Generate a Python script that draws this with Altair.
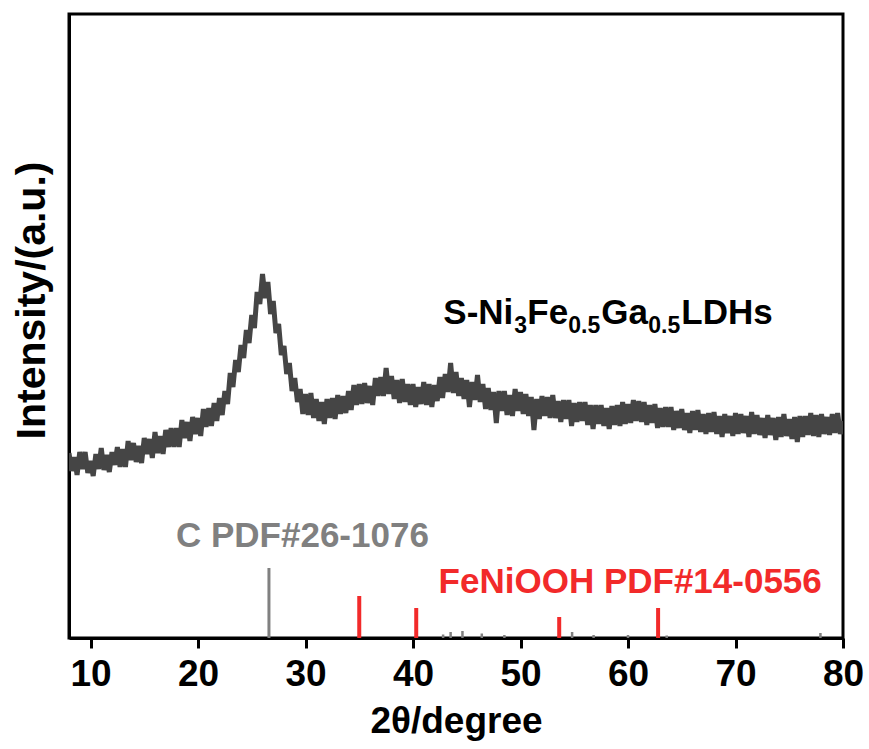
import altair as alt
import pandas as pd

# ---------------- data ----------------
two_theta_start = 8.0
two_theta_step = 0.25
# intensity (a.u.), one row per degree (8 ... 79) + final point at 80
intensity = [
    185, 167, 181, 163,   # 8
    186, 169, 186, 165,   # 9
    177, 162, 184, 169,   # 10
    190, 168, 183, 166,   # 11
    186, 173, 191, 171,   # 12
    189, 171, 197, 178,   # 13
    195, 176, 192, 175,   # 14
    200, 184, 199, 180,   # 15
    206, 185, 202, 184,   # 16
    208, 191, 210, 191,   # 17
    210, 191, 218, 200,   # 18
    216, 197, 221, 204,   # 19
    220, 202, 229, 211,   # 20
    230, 212, 235, 217,   # 21
    240, 223, 247, 234,   # 22
    265, 251, 278, 266,   # 23
    293, 280, 308, 295,   # 24
    323, 310, 346, 334,   # 25
    364, 340, 356, 324,   # 26
    337, 305, 314, 283,   # 27
    292, 264, 275, 247,   # 28
    260, 236, 249, 224,   # 29
    244, 223, 245, 220,   # 30
    239, 217, 236, 214,   # 31
    239, 220, 240, 219,   # 32
    243, 224, 242, 225,   # 33
    247, 228, 253, 233,   # 34
    254, 234, 255, 235,   # 35
    252, 233, 260, 242,   # 36
    261, 242, 270, 244,   # 37
    262, 239, 258, 235,   # 38
    259, 236, 254, 233,   # 39
    254, 231, 251, 234,   # 40
    256, 233, 254, 231,   # 41
    253, 237, 261, 240,   # 42
    264, 246, 275, 245,   # 43
    266, 242, 260, 239,   # 44
    258, 231, 256, 238,   # 45
    263, 236, 254, 229,   # 46
    250, 228, 246, 215,   # 47
    247, 227, 247, 223,   # 48
    243, 222, 249, 227,   # 49
    246, 224, 244, 222,   # 50
    241, 208, 239, 219,   # 51
    242, 222, 241, 220,   # 52
    243, 220, 237, 216,   # 53
    238, 219, 238, 212,   # 54
    235, 216, 236, 217,   # 55
    236, 213, 233, 209,   # 56
    233, 214, 233, 212,   # 57
    230, 209, 232, 213,   # 58
    233, 212, 236, 214,   # 59
    234, 215, 238, 217,   # 60
    237, 216, 236, 213,   # 61
    233, 215, 234, 210,   # 62
    230, 211, 231, 211,   # 63
    231, 208, 227, 210,   # 64
    229, 208, 225, 205,   # 65
    227, 208, 228, 206,   # 66
    224, 204, 225, 206,   # 67
    226, 204, 222, 201,   # 68
    224, 205, 222, 202,   # 69
    225, 204, 224, 205,   # 70
    222, 201, 226, 204,   # 71
    223, 203, 220, 200,   # 72
    223, 203, 220, 198,   # 73
    221, 201, 224, 202,   # 74
    219, 199, 221, 196,   # 75
    222, 201, 222, 203,   # 76
    225, 202, 223, 201,   # 77
    224, 204, 221, 203,   # 78
    224, 205, 225, 204,   # 79
    217,                  # 80
]
two_theta = [two_theta_start + i * two_theta_step for i in range(len(intensity))]

# standard card C PDF#26-1076
c_main_pos = [26.6]
c_main_int = [70]
c_minor_pos = [42.8, 43.5, 44.6, 46.4, 48.5, 54.8, 56.8, 60.0, 63.6, 77.9]
c_minor_int = [3.5, 6, 7, 4.5, 3, 6, 3, 3, 2.5, 5]

# standard card FeNiOOH PDF#14-0556
fe_pos = [35.0, 40.3, 53.6, 62.8]
fe_int = [42, 30, 21, 30]

x_ticks = [10, 20, 30, 40, 50, 60, 70, 80]

FONT = "Liberation Sans"
CURVE = "#454545"
GRAY = "#808080"
RED = "#f22a2a"

xscale = alt.Scale(domain=[8, 80], nice=False, zero=False)
yscale = alt.Scale(domain=[0, 624], nice=False, zero=False)
xaxis = alt.Axis(values=x_ticks, title="2θ/degree", grid=False, format="d")
yaxis = alt.Axis(title="Intensity/(a.u.)", labels=False, ticks=False, grid=False)


def X(field):
    return alt.X(field, type="quantitative", scale=xscale, axis=xaxis)


def Y(field):
    return alt.Y(field, type="quantitative", scale=yscale, axis=yaxis)


curve_df = pd.DataFrame({"tt": two_theta, "I": intensity})
curve = alt.Chart(curve_df).mark_line(color=CURVE, strokeWidth=5, strokeJoin="miter",
                                      clip=True).encode(x=X("tt"), y=Y("I"))

c_main_df = pd.DataFrame({"tt": c_main_pos, "I": c_main_int, "z": [0] * len(c_main_pos)})
c_minor_df = pd.DataFrame({"tt": c_minor_pos, "I": c_minor_int, "z": [0] * len(c_minor_pos)})
fe_df = pd.DataFrame({"tt": fe_pos, "I": fe_int, "z": [0] * len(fe_pos)})

c_main = alt.Chart(c_main_df).mark_rule(color=GRAY, strokeWidth=3).encode(
    x=X("tt"), y=Y("z"), y2="I")
c_minor = alt.Chart(c_minor_df).mark_rule(color=GRAY, strokeWidth=2.5).encode(
    x=X("tt"), y=Y("z"), y2="I")
fe_rules = alt.Chart(fe_df).mark_rule(color=RED, strokeWidth=4).encode(
    x=X("tt"), y=Y("z"), y2="I")

label_df = pd.DataFrame({
    "tt": [17.95, 42.38],
    "I": [91.3, 44.7],
    "text": ["C PDF#26-1076", "FeNiOOH PDF#14-0556"],
    "color": [GRAY, RED],
})
labels = alt.Chart(label_df).mark_text(align="left", baseline="alphabetic", font=FONT,
                                        fontWeight="bold", fontSize=35).encode(
    x=X("tt"), y=Y("I"), text="text:N", color=alt.Color("color:N", scale=None))

# sample name with subscripts
name_pos = pd.DataFrame({"tt": [42.82], "I": [313.7]})
segments = [("S-Ni", 0, 35, 0), ("3", 71, 23, 9), ("Fe", 84, 35, 0), ("0.5", 125, 23, 9),
            ("Ga", 158, 35, 0), ("0.5", 205, 23, 9), ("LDHs", 238, 35, 0)]
name_layers = []
for txt, dx, fs, dy in segments:
    name_layers.append(
        alt.Chart(name_pos).mark_text(align="left", baseline="alphabetic", font=FONT,
                                      fontWeight="bold", fontSize=fs, dx=dx, dy=dy,
                                      color="black", text=txt).encode(x=X("tt"), y=Y("I"))
    )

chart = alt.layer(c_main, c_minor, fe_rules, curve, labels, *name_layers).properties(
    width=774, height=624,
    padding={"left": 69, "top": 14, "right": 26, "bottom": 111},
    autosize="none",
    background="white",
).configure_view(
    stroke="black", strokeWidth=3
).configure_axis(
    domainColor="black", domainWidth=3,
    tickColor="black", tickWidth=3, tickSize=10,
    labelFont=FONT, labelFontWeight="bold", labelFontSize=37, labelColor="black",
    labelPadding=8,
    titleFont=FONT, titleFontWeight="bold", titleFontSize=37, titleColor="black",
).configure_axisX(
    titlePadding=11, labelFlush=False,
).configure_axisY(
    titlePadding=16, titleFontSize=41, titleY=286,
)

chart.save("out.html", embed_options={"renderer": "svg", "actions": False})
